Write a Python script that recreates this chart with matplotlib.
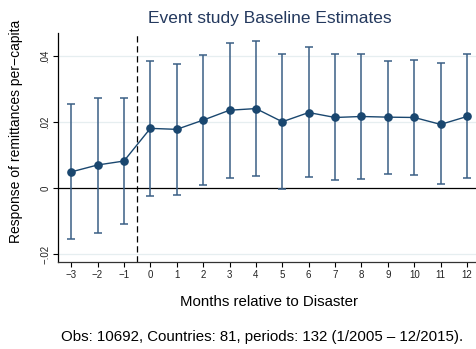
import matplotlib.pyplot as plt
from matplotlib.ticker import FuncFormatter

# Datos
meses = [-3, -2, -1, 0, 1, 2, 3, 4, 5, 6, 7, 8, 9, 10, 11, 12]
coef = [0.0049, 0.0070, 0.0082, 0.0181, 0.0178, 0.0206, 0.0236, 0.0241,
        0.0201, 0.0229, 0.0214, 0.0217, 0.0215, 0.0214, 0.0193, 0.0217]
ci_sup = [0.0254, 0.0274, 0.0274, 0.0386, 0.0376, 0.0404, 0.0440, 0.0445,
          0.0407, 0.0427, 0.0405, 0.0405, 0.0385, 0.0389, 0.0378, 0.0406]
ci_inf = [-0.0155, -0.0136, -0.0110, -0.0024, -0.0021, 0.0008, 0.0031, 0.0037,
          -0.0004, 0.0034, 0.0023, 0.0029, 0.0044, 0.0039, 0.0011, 0.0031]
yticks = [-0.02, 0, 0.02, 0.04]

navy = '#1a476f'
plt.rcParams['font.family'] = ['Liberation Sans', 'DejaVu Sans']

fig = plt.figure(figsize=(4.76, 3.49), dpi=100)
ax = fig.add_axes([0.1218, 0.2493, 0.8782, 0.6561])

# Rejilla y líneas de referencia
for y in yticks:
    if y != 0:
        ax.axhline(y, color='#e6eef0', lw=0.9, zorder=0)
ax.axhline(0, color='black', lw=0.9, zorder=1)
ax.axvline(-0.5, color='black', lw=0.9, ls=(0, (5, 3)), zorder=1)

# Intervalos de confianza
err = [[c - l for c, l in zip(coef, ci_inf)], [u - c for c, u in zip(coef, ci_sup)]]
ax.errorbar(meses, coef, yerr=err, fmt='none', ecolor='#3a5f85', elinewidth=1.1,
            capsize=3.2, capthick=1.1, zorder=2)
ax.plot(meses, coef, color=navy, lw=1.0, marker='o', ms=5.2, zorder=3)

ax.set_xlim(-3.5, 12.34)
ax.set_ylim(-0.0224, 0.047)
ax.set_xticks(meses)
ax.set_yticks(yticks)
ax.yaxis.set_major_formatter(FuncFormatter(
    lambda v, p: '0' if abs(v) < 1e-9 else ('%.2f' % v).replace('0.', '.').replace('-', '\u2212')))
ax.set_xticklabels([str(m).replace('-', '\u2212') for m in meses])
for lab in ax.get_yticklabels():
    lab.set_rotation(90)
    lab.set_va('center')
ax.tick_params(axis='both', labelsize=7, length=3.5, width=0.8, colors='black',
               labelcolor='#222222', pad=2)

for s in ['top', 'right']:
    ax.spines[s].set_visible(False)
ax.spines['left'].set_linewidth(0.9)
ax.spines['bottom'].set_linewidth(0.9)
ax.spines['bottom'].set_color('#333333')

fig.text(0.033, 0.623, 'Response of remittances per\u2212capita', rotation=90,
         ha='center', va='center', fontsize=10)
fig.text(0.567, 0.947, 'Event study Baseline Estimates', ha='center', va='center',
         fontsize=12.5, color='#24395e')
fig.text(0.566, 0.135, 'Months relative to Disaster', ha='center', va='center', fontsize=10.8)
fig.text(0.551, 0.035, 'Obs: 10692, Countries: 81, periods: 132 (1/2005 \u2013 12/2015).',
         ha='center', va='center', fontsize=10.85)

fig.savefig('out.png', dpi=100)
